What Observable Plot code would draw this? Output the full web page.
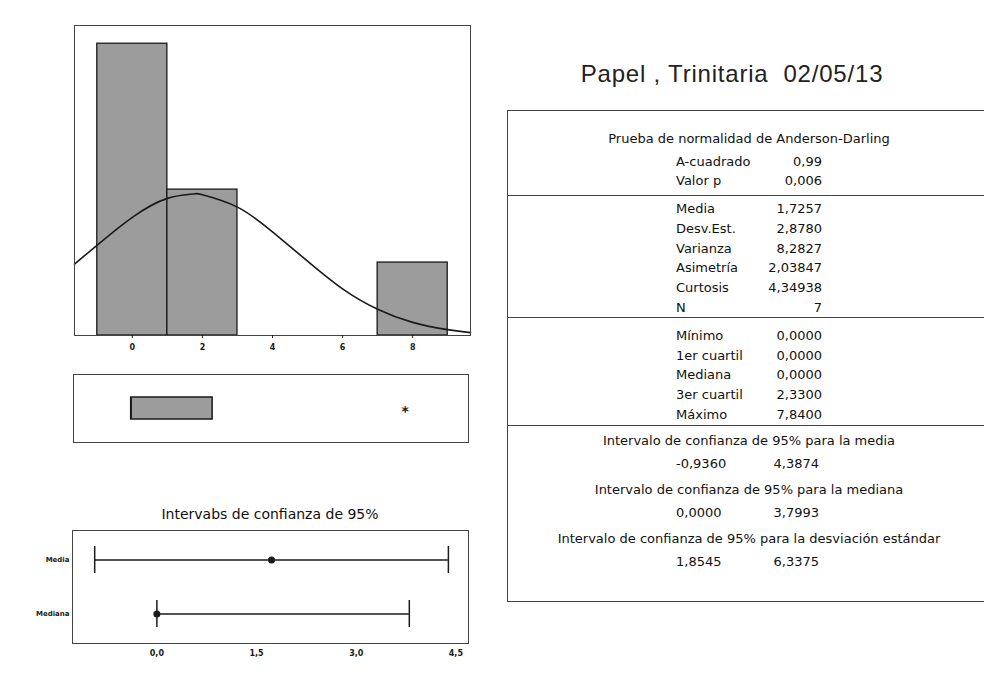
<!DOCTYPE html>
<html>
<head>
<meta charset="utf-8">
<script src="https://cdn.jsdelivr.net/npm/d3@7"></script>
<script src="https://cdn.jsdelivr.net/npm/@observablehq/plot@0.6"></script>
<style>
  html, body { margin: 0; padding: 0; background: #fff; }
  body { width: 984px; height: 679px; position: relative; overflow: hidden; font-family: "DejaVu Sans", sans-serif; }
  .abs { position: absolute; }
  #title { left: 482px; width: 500px; top: 60px; text-align: center; font-family: "Liberation Sans", Arial, sans-serif; font-size: 24px; letter-spacing: 0.8px; color: #222; white-space: pre; }
  #table { left: 507px; top: 110px; width: 490px; height: 492px; border: 1px solid #444; box-sizing: border-box; }
  .sep { position: absolute; left: 0; right: 0; height: 0; border-top: 1px solid #444; }
  .t { position: absolute; font-size: 13px; line-height: 16px; height: 16px; margin-top: -8px; white-space: nowrap; color: #111; }
  #citle { left: 72px; width: 396px; top: 506px; text-align: center; font-size: 14px; color: #111; white-space: nowrap; }
</style>
</head>
<body>
<script>
// ---------- Data ----------
const binStart = [-1, 1, 7];
const binEnd   = [1, 3, 9];
const counts   = [4, 2, 1];

// fitted normal curve (mean 1,7257, sd 2,8780)
const curveX = [-1.65, -1, 0, 1, 1.73, 2, 3, 4, 5, 6, 7, 8, 9, 9.65];
const curveY = [0.98, 1.24, 1.62, 1.88, 1.94, 1.93, 1.76, 1.42, 1.02, 0.64, 0.36, 0.18, 0.08, 0.04];

const histTicks = [0, 2, 4, 6, 8];

// boxplot summary
const boxQ1 = 0.0, boxMedian = 0.0, boxQ3 = 2.33, boxMin = 0.0, boxUpperWhisker = 2.33;
const outliers = [7.84];

// confidence intervals
const ciNames = ["Media", "Mediana"];
const ciLow   = [-0.936, 0.0];
const ciHigh  = [4.3874, 3.7993];
const ciPoint = [1.7257, 0.0];
const ciTicks = [0, 1.5, 3, 4.5];

// summary table
const adLabels = ["A-cuadrado", "Valor p"];
const adValues = ["0,99", "0,006"];
const momLabels = ["Media", "Desv.Est.", "Varianza", "Asimetría", "Curtosis", "N"];
const momValues = ["1,7257", "2,8780", "8,2827", "2,03847", "4,34938", "7"];
const qLabels = ["Mínimo", "1er cuartil", "Mediana", "3er cuartil", "Máximo"];
const qValues = ["0,0000", "0,0000", "0,0000", "2,3300", "7,8400"];
const ciTitles = [
  "Intervalo de confianza de 95% para la media",
  "Intervalo de confianza de 95% para la mediana",
  "Intervalo de confianza de 95% para la desviación estándar"
];
const ciTableLow  = ["-0,9360", "0,0000", "1,8545"];
const ciTableHigh = ["4,3874", "3,7993", "6,3375"];

// ---------- Helpers ----------
const fmtComma = d => d.toFixed(1).replace(".", ",");
function place(el, left, top) {
  el.classList.add("abs");
  el.style.left = left + "px";
  el.style.top = top + "px";
  document.body.appendChild(el);
}
const barFill = "#9c9c9c";
const ink = "#1a1a1a";
const xDomain = [-1.65, 9.65];

// ---------- Histogram ----------
const hist = Plot.plot({
  width: 480, height: 360,
  marginLeft: 74, marginRight: 10, marginTop: 25, marginBottom: 25,
  x: { domain: xDomain, ticks: histTicks, tickFormat: d => String(d) },
  y: { domain: [0, 4.25], axis: null },
  style: { fontFamily: "DejaVu Sans, sans-serif", fontSize: "8px", fontWeight: "bold", background: "transparent", color: ink },
  marks: [
    Plot.rectY(counts, { x1: (d, i) => binStart[i], x2: (d, i) => binEnd[i], y: d => d, fill: barFill, stroke: ink, strokeWidth: 1.3 }),
    Plot.line(curveX, { x: d => d, y: (d, i) => curveY[i], curve: "natural", stroke: ink, strokeWidth: 1.6 }),
    Plot.frame({ stroke: "#444", strokeWidth: 1 }),
    Plot.axisX({ ticks: histTicks, tickSize: 3, tickPadding: 6, fontSize: 8, fontWeight: "bold" })
  ]
});
place(hist, 0, 0);

// ---------- Boxplot ----------
const box = Plot.plot({
  width: 480, height: 110,
  marginLeft: 73, marginRight: 12, marginTop: 24, marginBottom: 18,
  x: { domain: xDomain, axis: null },
  y: { domain: ["Papel"], axis: null, padding: 0 },
  style: { fontFamily: "DejaVu Sans, sans-serif", background: "transparent", color: ink },
  marks: [
    Plot.ruleY(["Papel"], { x1: boxMin, x2: boxQ1, y: d => d, stroke: ink }),
    Plot.ruleY(["Papel"], { x1: boxQ3, x2: boxUpperWhisker, y: d => d, stroke: ink }),
    Plot.barX(["Papel"], { x1: boxQ1, x2: boxQ3, y: d => d, fill: barFill, stroke: ink, strokeWidth: 1.5, insetTop: 23, insetBottom: 23 }),
    Plot.tickX(["Papel"], { x: boxMedian, y: d => d, stroke: ink, strokeWidth: 1.5, insetTop: 23, insetBottom: 23 }),
    Plot.text(outliers, { x: d => d, y: () => "Papel", text: () => "*", fontSize: 14, fontWeight: "bold", dy: 3, fill: ink }),
    Plot.frame({ stroke: "#444", strokeWidth: 1 })
  ]
});
place(box, 0, 350);

// ---------- Confidence intervals ----------
const ciTitleDiv = document.createElement("div");
ciTitleDiv.id = "citle";
ciTitleDiv.textContent = "Intervabs de confianza de 95%";
ciTitleDiv.className = "abs";
document.body.appendChild(ciTitleDiv);

const ci = Plot.plot({
  width: 480, height: 189,
  marginLeft: 72, marginRight: 12, marginTop: 40, marginBottom: 36,
  x: { domain: [-1.27, 4.69], ticks: ciTicks, tickFormat: fmtComma },
  y: { domain: ciNames, paddingInner: 0.5, paddingOuter: 0.296 },
  style: { fontFamily: "DejaVu Sans, sans-serif", background: "transparent", color: ink },
  marks: [
    Plot.ruleY(ciNames, { y: d => d, x1: (d, i) => ciLow[i], x2: (d, i) => ciHigh[i], stroke: ink, strokeWidth: 1.5 }),
    Plot.tickX(ciNames, { y: d => d, x: (d, i) => ciLow[i], stroke: ink, strokeWidth: 1.5 }),
    Plot.tickX(ciNames, { y: d => d, x: (d, i) => ciHigh[i], stroke: ink, strokeWidth: 1.5 }),
    Plot.dot(ciNames, { y: d => d, x: (d, i) => ciPoint[i], r: 3.5, fill: ink }),
    Plot.frame({ stroke: "#444", strokeWidth: 1 }),
    Plot.axisX({ ticks: ciTicks, tickFormat: fmtComma, tickSize: 0, tickPadding: 7, fontSize: 8, fontWeight: "bold" }),
    Plot.axisY({ tickSize: 0, tickPadding: 3, fontSize: 7, fontWeight: "bold" })
  ]
});
place(ci, 0, 490);

// ---------- Title ----------
const title = document.createElement("div");
title.id = "title";
title.className = "abs";
title.textContent = "Papel , Trinitaria  02/05/13";
document.body.appendChild(title);

// ---------- Summary table ----------
const table = document.createElement("div");
table.id = "table";
table.className = "abs";
document.body.appendChild(table);

function txt(s, center, left, align, width) {
  const d = document.createElement("div");
  d.className = "t";
  d.textContent = s;
  d.style.top = center + "px";
  if (align === "center") { d.style.left = "0px"; d.style.width = (width || 478) + "px"; d.style.textAlign = "center"; }
  else if (align === "right") { d.style.left = (left - 120) + "px"; d.style.width = "120px"; d.style.textAlign = "right"; }
  else { d.style.left = left + "px"; }
  table.appendChild(d);
}
function sep(y) {
  const s = document.createElement("div");
  s.className = "sep";
  s.style.top = y + "px";
  table.appendChild(s);
}
const labelX = 168, valueX = 314, step = 19.7;
txt("Prueba de normalidad de Anderson-Darling", 27.5, 0, "center", 482);
adLabels.forEach((l, i) => { txt(l, 50.5 + i * 19.5, labelX, "left"); txt(adValues[i], 50.5 + i * 19.5, valueX, "right"); });
sep(84);
momLabels.forEach((l, i) => { txt(l, 98.3 + i * step, labelX, "left"); txt(momValues[i], 98.3 + i * step, valueX, "right"); });
sep(206);
qLabels.forEach((l, i) => { txt(l, 225 + i * step, labelX, "left"); txt(qValues[i], 225 + i * step, valueX, "right"); });
sep(314);
const ciHeadY = [330, 379, 427.5];
ciTitles.forEach((t, i) => {
  txt(t, ciHeadY[i], 0, "center", 482);
  txt(ciTableLow[i], ciHeadY[i] + 23, labelX, "left");
  txt(ciTableHigh[i], ciHeadY[i] + 23, 311, "right");
});
</script>
</body>
</html>
